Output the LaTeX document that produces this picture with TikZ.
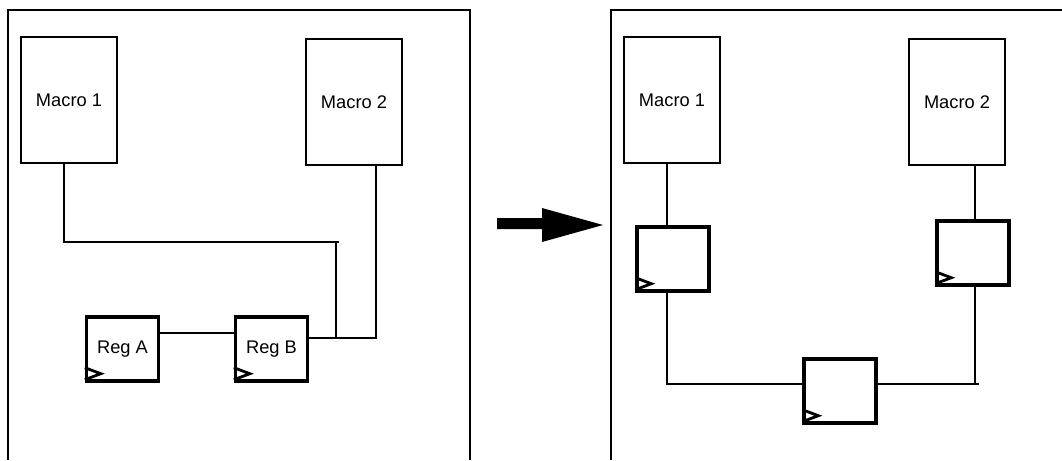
\documentclass[tikz,border=0pt]{standalone}
\usepackage{fontspec}
\setmainfont{Liberation Sans}
\usetikzlibrary{calc}
\begin{document}
\begin{tikzpicture}[x=0.025cm,y=-0.025cm,
    macro/.style={draw, line width=1.6pt, minimum width=2.4cm, minimum height=3.15cm,
      font=\fontsize{13}{15}\selectfont},
    reg/.style={draw, line width=2.4pt, minimum width=1.8cm, minimum height=1.6cm,
      font=\fontsize{13}{15}\selectfont},
    wire/.style={line width=1.4pt},
    clk/.style={line width=2pt, line join=miter}]
  \useasboundingbox (0,0) rectangle (1062,460);

  % before
  \draw[line width=1.6pt] (8,460) -- (8,10) -- (470,10) -- (470,460);
  \node[macro] (m1L) at (69,100) {Macro 1};
  \node[macro] (m2L) at (354,102) {Macro 2};
  \node[reg] (rAL) at (122.5,349) {Reg A};
  \node[reg] (rBL) at (271.5,349) {Reg B};
  \coordinate (bendL) at (336,242);
  \coordinate (tapL) at ($(rBL.east)+(0,-11)$);
  \draw[wire] ($(m1L.south)+(-5,0)$) |- ($(bendL)+(3,0)$);
  \draw[wire] (bendL) -- (bendL |- tapL);
  \draw[wire] (tapL) -| ($(m2L.south)+(22,0)$);
  \draw[wire] ($(rAL.east)+(0,-16)$) -- ($(rBL.west)+(0,-16)$);

  % arrow
  \fill (497,218) -- (542,218) -- (542,208) -- (603,225) -- (542,242) -- (542,229) -- (497,229) -- cycle;

  % after
  \draw[line width=1.6pt] (611,460) -- (611,10) -- (1062,10);
  \node[macro] (m1R) at (672,100) {Macro 1};
  \node[macro] (m2R) at (957,102) {Macro 2};
  \node[reg] (r1R) at (673,259) {};
  \node[reg] (r2R) at (973,253) {};
  \node[reg] (r3R) at (840,391) {};
  \coordinate (tapR) at ($(r2R.south)+(2,0)$);
  \draw[wire] ($(m1R.south)+(-5,0)$) -- ($(r1R.north)+(-6,0)$);
  \draw[wire] ($(r1R.south)+(-6,0)$) |- ($(r3R.west)+(0,-7)$);
  \draw[wire] ($(m2R.south)+(18,0)$) -- ($(r2R.north)+(2,0)$);
  \draw[wire] ($(r3R.east)+(0,-7)$) -- ($(r3R.east -| tapR)+(0,-7)+(4,0)$);
  \draw[wire] (tapR) -- ($(r3R.east -| tapR)+(0,-7)$);

  % clock marks
  \foreach \r in {rAL,rBL,r1R,r2R,r3R}
    \draw[clk] (\r.south west) ++(0,-15) -- ++(16,6) -- ++(-16,6);
\end{tikzpicture}
\end{document}
